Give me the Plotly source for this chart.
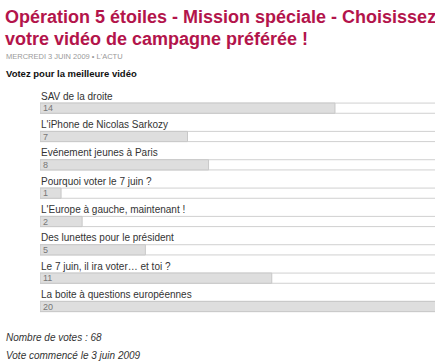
import plotly.graph_objects as go

# ---- data ----
videos = [
    "SAV de la droite",
    "L'iPhone de Nicolas Sarkozy",
    "Evénement jeunes à Paris",
    "Pourquoi voter le 7 juin ?",
    "L'Europe à gauche, maintenant !",
    "Des lunettes pour le président",
    "Le 7 juin, il ira voter… et toi ?",
    "La boite à questions européennes",
]
votes = [14, 7, 8, 1, 2, 5, 11, 20]
title_lines = ["Opération 5 étoiles - Mission spéciale - Choisissez",
               "votre vidéo de campagne préférée !"]
dateline = "MERCREDI 3 JUIN 2009 • L'ACTU"
poll_title = "Votez pour la meilleure vidéo"
total_text = "Nombre de votes : 68"
start_text = "Vote commencé le 3 juin 2009"

# ---- layout constants ----
W, H = 435, 364
ML, MR, MT, MB = 40, 0, 94, 38
PH = H - MT - MB
px_per_vote = 21.07
xmax = (W - ML - MR) / px_per_vote

def py(y):
    return (H - MB - y) / PH

CRIMSON = "#B3144B"
FONT = "Liberation Sans, Arial, sans-serif"

fig = go.Figure()
# track
fig.add_trace(go.Bar(
    y=videos, x=[xmax * 2] * len(videos), orientation="h",
    marker=dict(color="#FFFFFF", line=dict(color="#D0D0D0", width=1)),
    width=0.36, hoverinfo="skip", showlegend=False,
))
# values
fig.add_trace(go.Bar(
    y=videos, x=votes, orientation="h",
    marker=dict(color="#DEDEDE", line=dict(color="#C8C8C8", width=1)),
    width=0.36, showlegend=False,
    text=[str(v) for v in votes], textposition="inside", textangle=0,
    insidetextanchor="start", constraintext="none",
    textfont=dict(size=9, color="#777777", family=FONT),
))

annotations = []
for v in videos:
    annotations.append(dict(
        x=0, y=v, xref="x", yref="y", text=v, showarrow=False,
        xanchor="left", yanchor="middle", xshift=-1, yshift=12,
        font=dict(size=10, color="#333333", family=FONT),
    ))

def paper_text(text, x, y, size, color, bold=False, italic=False):
    t = text
    if bold:
        t = "<b>" + t + "</b>"
    if italic:
        t = "<i>" + t + "</i>"
    annotations.append(dict(
        x=(x - ML) / (W - ML - MR), y=py(y), xref="paper", yref="paper",
        text=t, showarrow=False, xanchor="left", yanchor="middle",
        font=dict(size=size, color=color, family=FONT),
    ))

paper_text(title_lines[0], 3, 17, 18, CRIMSON, bold=True)
paper_text(title_lines[1], 3, 39, 18, CRIMSON, bold=True)
paper_text(dateline, 4, 56, 7.5, "#9A9A9A")
paper_text(poll_title, 4, 74, 9.5, "#111111", bold=True)
paper_text(total_text, 4, 337, 10, "#333333", italic=True)
paper_text(start_text, 4, 355, 10, "#333333", italic=True)

fig.update_layout(
    width=W, height=H,
    margin=dict(l=ML, r=MR, t=MT, b=MB, pad=0),
    paper_bgcolor="white", plot_bgcolor="white",
    barmode="overlay",
    xaxis=dict(range=[0, xmax], visible=False, fixedrange=True),
    yaxis=dict(categoryorder="array", categoryarray=videos,
               autorange="reversed", visible=False, fixedrange=True),
    annotations=annotations,
    font=dict(family=FONT),
)

fig.write_html("out.html", config={"displayModeBar": False})
